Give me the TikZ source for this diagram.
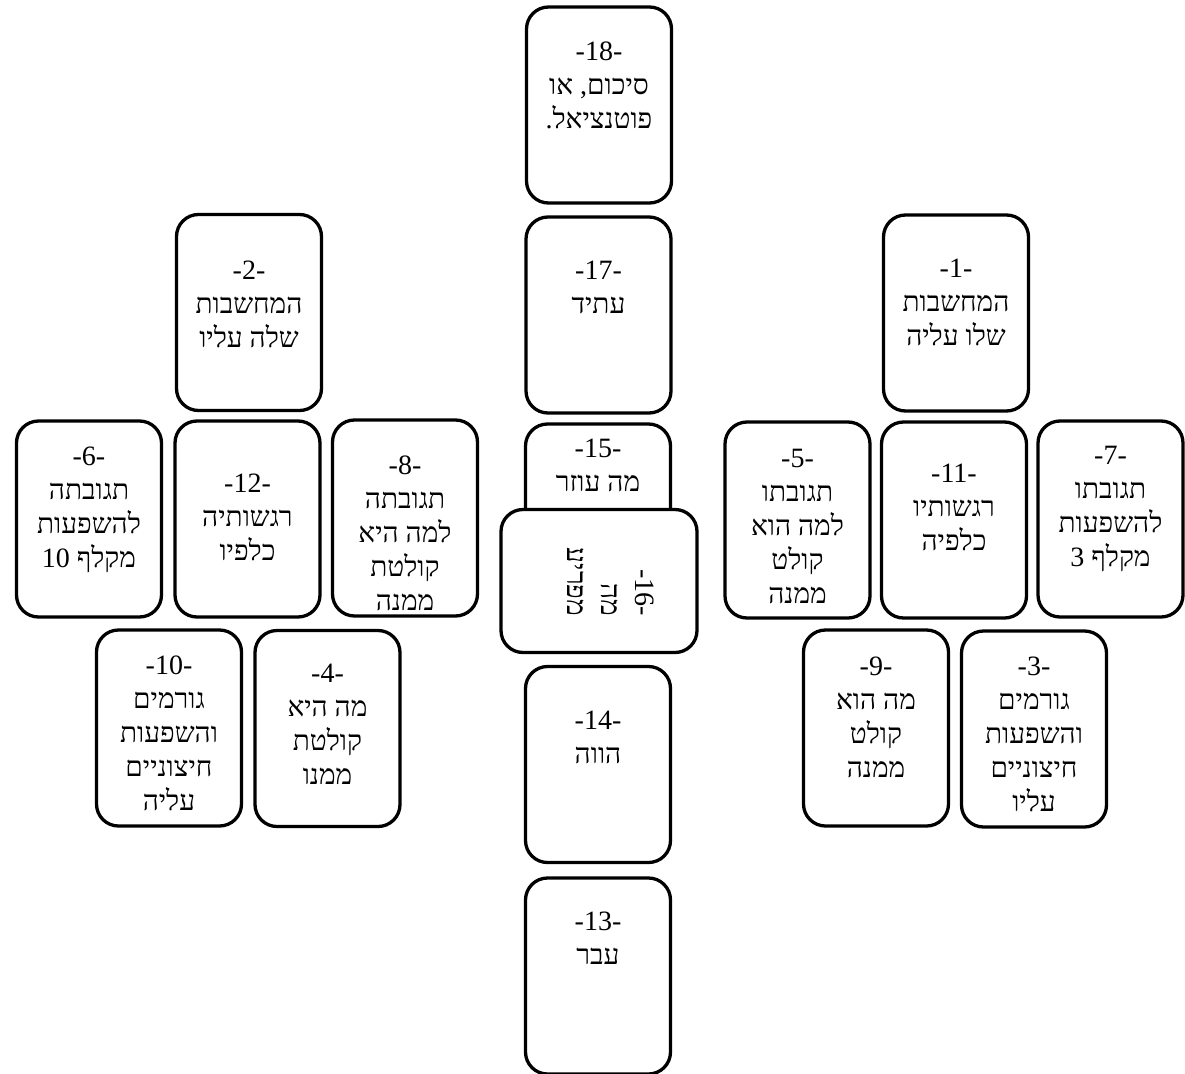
\documentclass[tikz,border=0pt]{standalone}
\usepackage{fontspec}
\setmainfont{Liberation Serif}
\newfontfamily\heb[Script=Hebrew]{Liberation Serif}
\TeXXeTstate=1
\newcommand\hebline[1]{\beginR #1\endR}
\begin{document}
\begin{tikzpicture}[x=1pt,y=-1pt,
  card/.style={draw, line width=3.3pt, rounded corners=22pt, fill=white,
    minimum width=145pt, minimum height=196pt, inner sep=0pt},
  wide/.style={minimum width=196pt, minimum height=143pt},
  txt/.style={anchor=north, align=center, inner sep=0pt,
    font=\heb\fontsize{28}{34}\selectfont}]
\useasboundingbox (0,0) rectangle (1185,1073);
% central column
\node[card] (c18) at (599,105) {};
\node[card] (c17) at (598.5,315) {};
\node[card] (c15) at (598,522) {};
\node[card,wide] (c16) at (599,581) {};
\node[card] (c14) at (598,764.5) {};
\node[card] (c13) at (598,976) {};
% left group
\node[card] (c2) at (249,312.5) {};
\node[card] (c6) at (89,519) {};
\node[card] (c12) at (247.5,519) {};
\node[card] (c8) at (405,518) {};
\node[card] (c10) at (169,728) {};
\node[card] (c4) at (327.5,728.5) {};
% right group
\node[card] (c1) at (956,313) {};
\node[card] (c5) at (797.5,520) {};
\node[card] (c11) at (954,520) {};
\node[card] (c7) at (1110.5,519) {};
\node[card] (c9) at (876,728) {};
\node[card] (c3) at (1034,729) {};
% texts
\node[txt] (t18) at (599,42) {-18-\\\hebline{סיכום, או}\\\hebline{פוטנציאל.}};
\node[txt] (t17) at (598.5,261) {-17-\\\hebline{עתיד}};
\node[txt] (t15) at (598,439) {-15-\\\hebline{מה עוזר}};
\node[txt,anchor=center,rotate=-90,align=right] (t16) at (611,582) {-16-\\\hebline{מה}\\\hebline{מפריע}};
\node[txt] (t14) at (598,711) {-14-\\\hebline{הווה}};
\node[txt] (t13) at (598,912) {-13-\\\hebline{עבר}};
\node[txt] (t2) at (249,261) {-2-\\\hebline{המחשבות}\\\hebline{שלה עליו}};
\node[txt] (t6) at (89,447) {-6-\\\hebline{תגובתה}\\\hebline{להשפעות}\\\hebline{מקלף \beginL 10\endL{}}};
\node[txt] (t12) at (247.5,474) {-12-\\\hebline{רגשותיה}\\\hebline{כלפיו}};
\node[txt] (t8) at (405,456) {-8-\\\hebline{תגובתה}\\\hebline{למה היא}\\\hebline{קולטת}\\\hebline{ממנה}};
\node[txt] (t10) at (169,656) {-10-\\\hebline{גורמים}\\\hebline{והשפעות}\\\hebline{חיצוניים}\\\hebline{עליה}};
\node[txt] (t4) at (327.5,664) {-4-\\\hebline{מה היא}\\\hebline{קולטת}\\\hebline{ממנו}};
\node[txt] (t1) at (956,259) {-1-\\\hebline{המחשבות}\\\hebline{שלו עליה}};
\node[txt] (t5) at (797.5,449) {-5-\\\hebline{תגובתו}\\\hebline{למה הוא}\\\hebline{קולט}\\\hebline{ממנה}};
\node[txt] (t11) at (954,464) {-11-\\\hebline{רגשותיו}\\\hebline{כלפיה}};
\node[txt] (t7) at (1110.5,446) {-7-\\\hebline{תגובתו}\\\hebline{להשפעות}\\\hebline{מקלף \beginL 3\endL{}}};
\node[txt] (t9) at (876,657) {-9-\\\hebline{מה הוא}\\\hebline{קולט}\\\hebline{ממנה}};
\node[txt] (t3) at (1034,657) {-3-\\\hebline{גורמים}\\\hebline{והשפעות}\\\hebline{חיצוניים}\\\hebline{עליו}};
\end{tikzpicture}
\end{document}
